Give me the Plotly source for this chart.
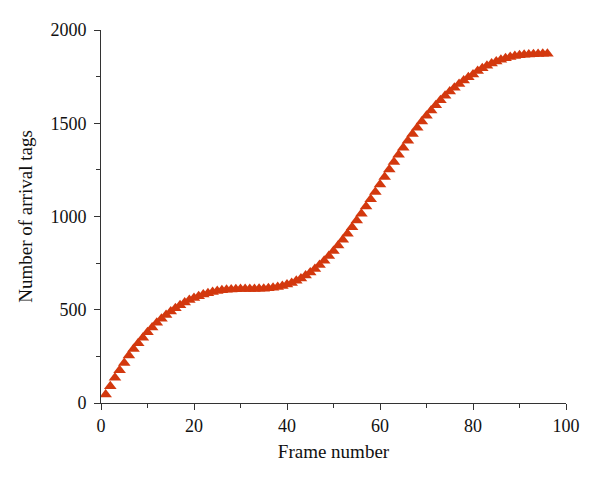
import plotly.graph_objects as go

frames = list(range(1, 97))
arrival_tags = [
    45, 90, 135, 175, 215, 255, 290, 320, 350, 380,
    405, 430, 452, 472, 490, 508, 524, 539, 552, 563,
    573, 582, 589, 595, 600, 604, 607, 609, 610, 611,
    611, 611, 611, 612, 613, 615, 618, 622, 628, 635,
    644, 655, 668, 683, 700, 719, 740, 763, 788, 815,
    844, 875, 908, 942, 978, 1015, 1053, 1092, 1132, 1172,
    1212, 1252, 1292, 1331, 1369, 1406, 1442, 1476, 1509, 1540,
    1569, 1597, 1623, 1647, 1670, 1691, 1711, 1729, 1746, 1762,
    1780, 1795, 1808, 1820, 1831, 1840, 1848, 1855, 1860, 1864,
    1867, 1869, 1870, 1871, 1872, 1872,
]

x_ticks = [0, 20, 40, 60, 80, 100]
y_ticks = [0, 500, 1000, 1500, 2000]

font_family = "Liberation Serif"

fig = go.Figure()
fig.add_trace(go.Scatter(
    x=frames, y=arrival_tags, mode="markers",
    marker=dict(symbol="triangle-up", size=11, color="#D3380E", line=dict(width=0)),
    showlegend=False,
))

fig.update_layout(
    width=600, height=482,
    margin=dict(l=93, r=42, t=22, b=87),
    paper_bgcolor="white", plot_bgcolor="white",
    font=dict(family=font_family, size=18, color="#111"),
    xaxis=dict(
        range=[0, 100], tickvals=x_ticks, showgrid=False, zeroline=False,
        showline=True, linecolor="#333", linewidth=1, automargin=False,
        ticks="outside", ticklen=6, tickcolor="#333",
        minor=dict(dtick=10, ticks="outside", ticklen=4, tickcolor="#333", showgrid=False),
        title=dict(text="Frame number", font=dict(size=19), standoff=10),
    ),
    yaxis=dict(
        range=[0, 2000], tickvals=y_ticks, showgrid=False, zeroline=False,
        showline=True, linecolor="#333", linewidth=1, automargin=False,
        ticks="outside", ticklen=6, tickcolor="#333", ticklabelstandoff=4,
        minor=dict(dtick=250, ticks="outside", ticklen=4, tickcolor="#333", showgrid=False),
        title=dict(text="Number of arrival tags", font=dict(size=19), standoff=12),
    ),
)

fig.write_html("out.html")
